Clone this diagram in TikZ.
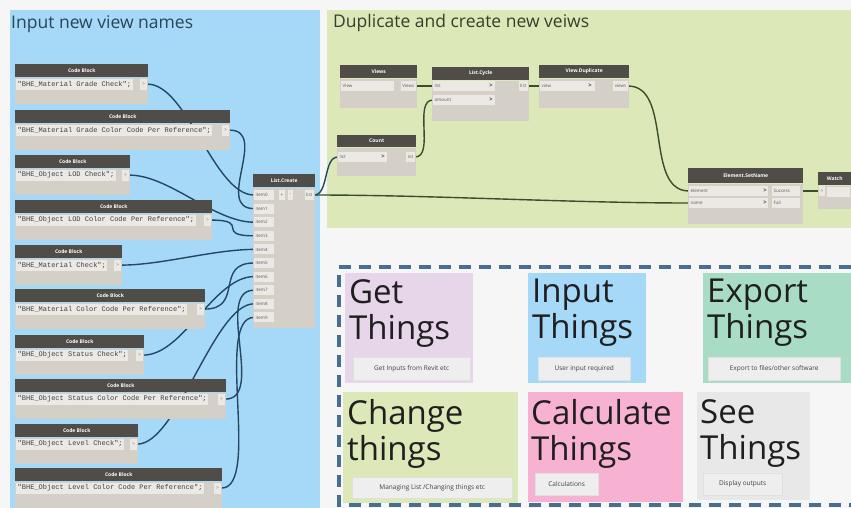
\documentclass[tikz,border=0pt]{standalone}
\usepackage{fontspec}
\setmainfont{Open Sans}
\setmonofont{Liberation Mono}
\usetikzlibrary{arrows.meta,positioning,calc}
\pgfdeclarelayer{groups}
\pgfdeclarelayer{wires}
\pgfsetlayers{groups,wires,main}
\definecolor{pagebg}{RGB}{246,246,246}
\definecolor{grpblue}{RGB}{166,216,247}
\definecolor{grpgreen}{RGB}{220,232,183}
\definecolor{grptxtb}{RGB}{40,70,90}
\definecolor{grptxtg}{RGB}{55,62,45}
\definecolor{catpurple}{RGB}{231,213,234}
\definecolor{catmint}{RGB}{168,220,196}
\definecolor{catpink}{RGB}{247,178,210}
\definecolor{catgray}{RGB}{232,232,232}
\definecolor{hdrgray}{RGB}{80,76,72}
\definecolor{bodygray}{RGB}{212,207,199}
\definecolor{fieldgray}{RGB}{236,233,228}
\definecolor{wireblue}{RGB}{36,72,98}
\definecolor{wiregreen}{RGB}{58,78,42}
\definecolor{dashblue}{RGB}{72,110,148}
\definecolor{btngray}{RGB}{238,238,238}
\begin{document}
\begin{tikzpicture}[x=1pt,y=-1pt]
\tikzstyle{hdr}=[fill=hdrgray,text=white,font=\fontsize{5}{6}\selectfont\bfseries,minimum height=13,inner sep=0pt,anchor=north west]
\tikzstyle{dbody}=[fill=bodygray,inner sep=0pt,anchor=north west]
\tikzstyle{cbtext}=[fill=fieldgray,font=\fontsize{7}{8}\ttfamily,text=black!75,minimum height=11,inner xsep=1.5pt,inner ysep=0pt,anchor=north west]
\tikzstyle{plabel}=[fill=fieldgray,font=\fontsize{4.5}{5}\selectfont,text=black!65,minimum height=10,inner xsep=1.5pt,inner ysep=0pt,align=left]
\tikzstyle{parr}=[font=\fontsize{6}{6}\selectfont\bfseries,text=black!70,inner sep=0pt]
\tikzstyle{wireb}=[draw=wireblue,line width=1.4pt]
\tikzstyle{wireg}=[draw=wiregreen,line width=1.4pt]
\tikzstyle{gtitle}=[font=\fontsize{17.5}{20}\selectfont,anchor=base west,inner sep=0pt]
\tikzstyle{catbox}=[inner sep=0pt,anchor=north west]
\tikzstyle{cattext}=[font=\fontsize{33}{36}\selectfont,text=black!88,align=left,inner sep=0pt,anchor=north west]
\tikzstyle{btn}=[fill=btngray,draw=black!12,font=\fontsize{6.5}{7}\selectfont,text=black!75,inner sep=0pt,anchor=south west]
\tikzstyle{dashbox}=[draw=dashblue,line width=3.4pt,dash pattern=on 12pt off 8pt]
\useasboundingbox (0,0) rectangle (851,508);
\begin{pgfonlayer}{groups}
\fill[pagebg] (0,0) rectangle (851,508);
\fill[grpblue] (10,10) rectangle (320,508);
\fill[grpgreen] (327,10) rectangle (851,228);
\end{pgfonlayer}
\node[gtitle,text=grptxtb] (tin) at (11,29) {Input new view names};
\node[gtitle,text=grptxtg] (tdup) at (333,28) {Duplicate and create new veiws};
\foreach \n/\yh/\w/\txt in {0/64/133/BHE\_Material Grade Check,1/110/215/BHE\_Material Grade Color Code Per Reference,2/155/115/BHE\_Object LOD Check,3/200/197/BHE\_Object LOD Color Code Per Reference,4/245/107/BHE\_Material Check,5/289/190/BHE\_Material Color Code Per Reference,6/335/129/BHE\_Object Status Check,7/379/211/BHE\_Object Status Color Code Per Reference,8/424/123/BHE\_Object Level Check,9/468/207/BHE\_Object Level Color Code Per Reference}{
\node[hdr,minimum width=\w] (cbh\n) at (15,\yh) {Code Block};
\node[dbody,minimum width=\w,minimum height=26] (cb\n) at (cbh\n.south west) {};
\node[cbtext] (cbt\n) at ([shift={(1,1)}]cb\n.north west) {"\txt";};
\node[plabel,minimum width=7,minimum height=11,anchor=north east] (cbo\n) at ([shift={(-1,1)}]cb\n.north east) {>};
}
\node[hdr,minimum width=62] (lch) at (253,174) {List.Create};
\node[dbody,minimum width=62,minimum height=140] (lc) at (lch.south west) {};
\foreach \k in {0,...,9}
\node[plabel,text width=17,anchor=west] (lci\k) at (254,{195+13.6*\k}) {item\k};
\node[plabel,anchor=west] (lcp) at (279,195) {+};
\node[plabel,anchor=west] (lcm) at (288,195) {-};
\node[plabel,anchor=east] (lco) at (314,195) {list};
\node[hdr,minimum width=77] (vwh) at (340,65) {Views};
\node[dbody,minimum width=77,minimum height=29] (vw) at (vwh.south west) {};
\node[plabel,text width=50,anchor=west] (vwd) at (341,86) {View};
\node[plabel,anchor=east] (vwo) at (416,86) {Views};
\node[hdr,minimum width=97] (cyh) at (432,67) {List.Cycle};
\node[dbody,minimum width=97,minimum height=40] (cy) at (cyh.south west) {};
\node[plabel,text width=59,anchor=west] (cyl) at (433,86) {list};
\node[parr] (cyla) at (491,86) {>};
\node[plabel,text width=59,anchor=west] (cya) at (433,100) {amount};
\node[parr] (cyaa) at (491,100) {>};
\node[plabel,anchor=east] (cyo) at (528,86) {list};
\node[hdr,minimum width=90] (vdh) at (539,65) {View.Duplicate};
\node[dbody,minimum width=90,minimum height=29] (vd) at (vdh.south west) {};
\node[plabel,text width=52,anchor=west] (vdi) at (540,86) {view};
\node[parr] (vdia) at (590,86) {>};
\node[plabel,anchor=east] (vdo) at (628,86) {views};
\node[hdr,minimum width=79,minimum height=12] (cth) at (337,135) {Count};
\node[dbody,minimum width=79,minimum height=28] (ct) at (cth.south west) {};
\node[plabel,text width=46,anchor=west] (cti) at (338,157) {list};
\node[parr] (ctia) at (383,157) {>};
\node[plabel,anchor=east] (cto) at (415,157) {int};
\node[hdr,minimum width=115,minimum height=15] (esh) at (688,168) {Element.SetName};
\node[dbody,minimum width=115,minimum height=40] (es) at (esh.south west) {};
\node[plabel,text width=76,anchor=west] (ese) at (689,191) {element};
\node[parr] (esea) at (765,191) {>};
\node[plabel,text width=76,anchor=west] (esn) at (689,203) {name};
\node[parr] (esna) at (765,203) {>};
\node[plabel,text width=25,anchor=west] (ess) at (772,191) {Success};
\node[plabel,text width=25,anchor=west] (esf) at (772,203) {Fail};
\node[hdr,minimum width=33] (wah) at (818,172) {Watch};
\node[dbody,minimum width=33,minimum height=23] (wa) at (wah.south west) {};
\node[plabel,anchor=west] (wai) at (819,191) {>};
\node[plabel,minimum width=23,anchor=west] (wav) at (827,192) {};
\begin{pgfonlayer}{wires}
\foreach \n in {0,...,9}
\draw[wireb] (cbo\n.east) .. controls +(40,0) and +(-40,0) .. (lci\n.west);
\draw[wireb] (lco.east) .. controls +(15,0) and +(-15,0) .. (cti.west);
\draw[wireg] (lco.east) .. controls +(120,0) and +(-120,0) .. (esn.west);
\draw[wireg] (vwo.east) -- (cyl.west);
\draw[wireg] (cto.east) .. controls +(20,0) and +(-20,0) .. (cya.west);
\draw[wireg] (cyo.east) -- (vdi.west);
\draw[wireg] (vdo.east) .. controls +(45,0) and +(-45,0) .. (ese.west);
\draw[wireg] (ess.east) -- (wai.west);
\end{pgfonlayer}
\node[catbox,fill=catpurple,minimum width=128,minimum height=110] (get) at (345,273) {};
\node[cattext] (gett) at ([shift={(4,6)}]get.north west) {Get\\Things};
\node[btn,minimum width=117,minimum height=23] (getb) at ([shift={(8,-3)}]get.south west) {Get Inputs from Revit etc};
\node[catbox,fill=grpblue,minimum width=118,minimum height=110] (inp) at (528,273) {};
\node[cattext] (inpt) at ([shift={(4,6)}]inp.north west) {Input\\Things};
\node[btn,minimum width=92,minimum height=23] (inpb) at ([shift={(10,-3)}]inp.south west) {User input required};
\node[catbox,fill=catmint,minimum width=148,minimum height=110] (exp) at (703,273) {};
\node[cattext] (expt) at ([shift={(4,6)}]exp.north west) {Export\\Things};
\node[btn,minimum width=132,minimum height=23] (expb) at ([shift={(5,-3)}]exp.south west) {Export to files/other software};
\node[catbox,fill=grpgreen,minimum width=175,minimum height=111] (chg) at (343,392) {};
\node[cattext] (chgt) at ([shift={(4,7)}]chg.north west) {Change\\things};
\node[btn,minimum width=160,minimum height=21] (chgb) at ([shift={(9,-5)}]chg.south west) {Managing List /Changing things etc};
\node[catbox,fill=catpink,minimum width=155,minimum height=110] (calc) at (528,392) {};
\node[cattext] (calct) at ([shift={(3,7)}]calc.north west) {Calculate\\Things};
\node[btn,minimum width=63,minimum height=22] (calcb) at ([shift={(7,-7)}]calc.south west) {Calculations};
\node[catbox,fill=catgray,minimum width=113,minimum height=108] (see) at (697,392) {};
\node[cattext] (seet) at ([shift={(3,7)}]see.north west) {See\\Things};
\node[btn,minimum width=79,minimum height=22] (seeb) at ([shift={(6,-5)}]see.south west) {Display outputs};
\draw[dashbox] (851,267) -- (339,267) -- (339,505) -- (851,505);
\end{tikzpicture}
\end{document}
